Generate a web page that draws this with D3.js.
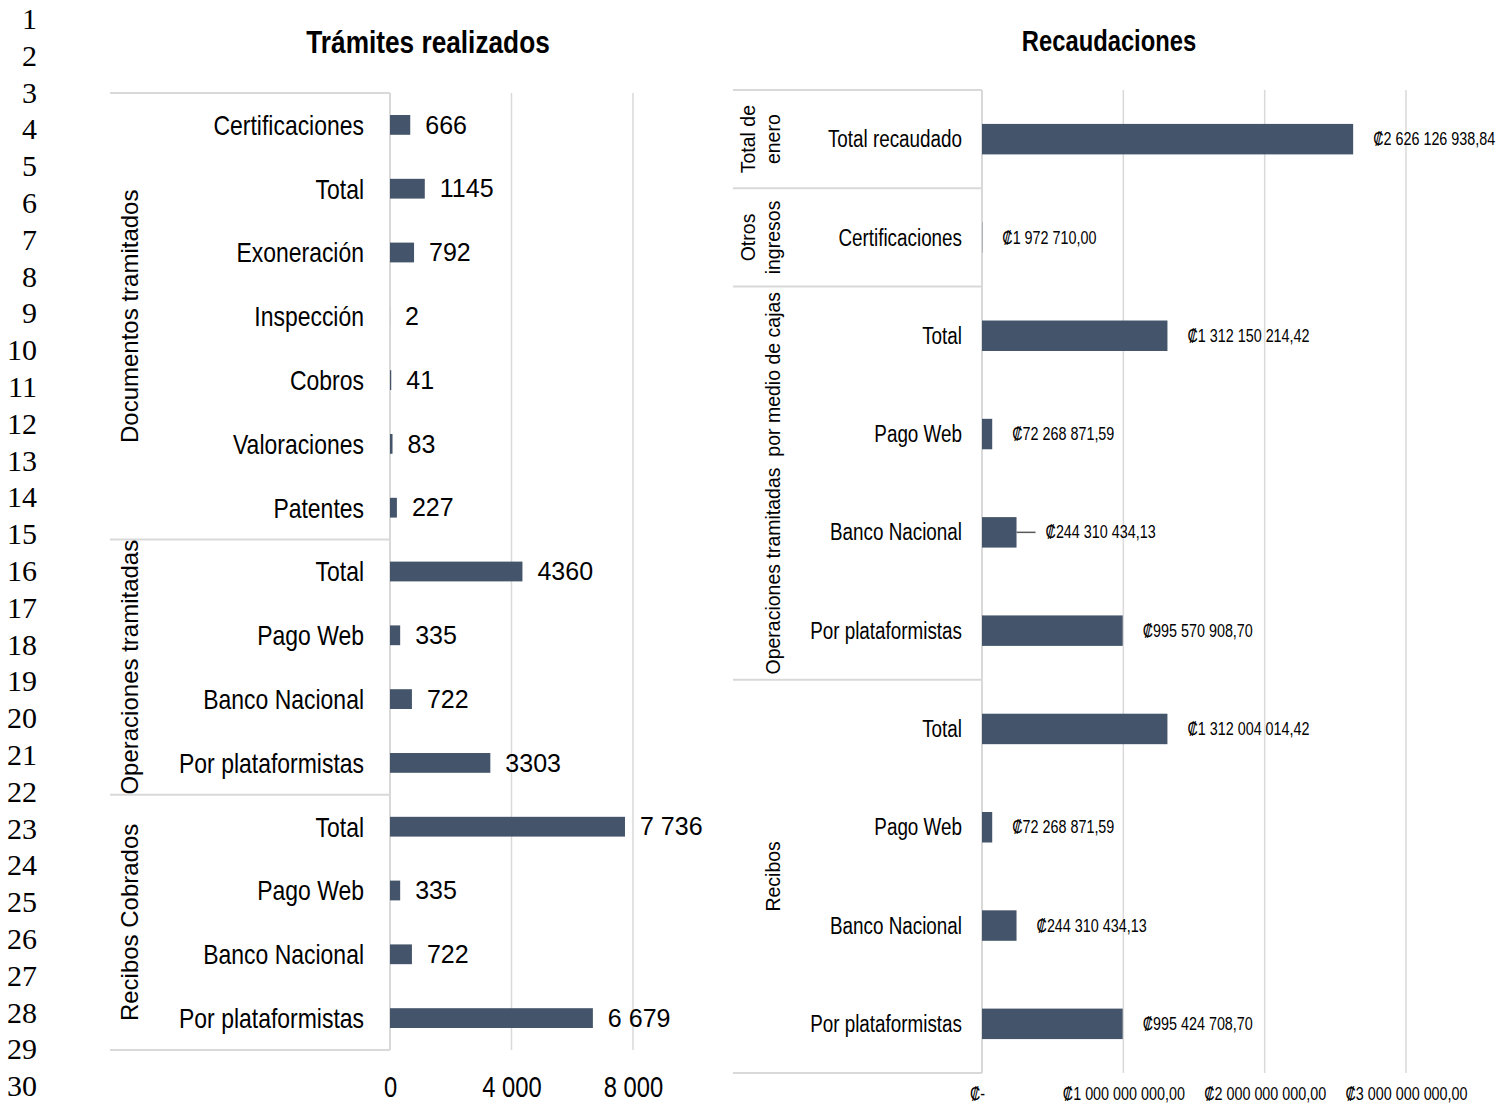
<!DOCTYPE html>
<html>
<head>
<meta charset="utf-8">
<script src="https://cdn.jsdelivr.net/npm/d3@7"></script>
<style>
  body { margin: 0; background: #fff; }
  svg { display: block; }
  text { font-family: "Liberation Sans", Arial, sans-serif; }
</style>
</head>
<body>
<script>
// spreadsheet row numbers on the left
const rowNumbers = d3.range(1, 31)

// Trámites realizados
const tramitesGroups = ['Documentos tramitados', 'Operaciones tramitadas', 'Recibos Cobrados']
const tramitesGroupSizes = [7, 4, 4]
const tramitesCategories = ['Certificaciones', 'Total', 'Exoneración', 'Inspección', 'Cobros', 'Valoraciones', 'Patentes',
    'Total', 'Pago Web', 'Banco Nacional', 'Por plataformistas',
    'Total', 'Pago Web', 'Banco Nacional', 'Por plataformistas']
const tramitesValues = [666, 1145, 792, 2, 41, 83, 227, 4360, 335, 722, 3303, 7736, 335, 722, 6679]
const tramitesLabels = ['666', '1145', '792', '2', '41', '83', '227', '4360', '335', '722', '3303', '7 736', '335', '722', '6 679']
const tramitesTicks = [0, 4000, 8000]
const tramitesTickLabels = ['0', '4 000', '8 000']

// Recaudaciones
const recaudGroups = [['Total de', 'enero'], ['Otros', 'ingresos'], ['Operaciones tramitadas  por medio de cajas'], ['Recibos']]
const recaudGroupSizes = [1, 1, 4, 4]
const recaudCategories = ['Total recaudado', 'Certificaciones', 'Total', 'Pago Web', 'Banco Nacional', 'Por plataformistas',
    'Total', 'Pago Web', 'Banco Nacional', 'Por plataformistas']
const recaudValues = [2626126938.84, 1972710.00, 1312150214.42, 72268871.59, 244310434.13, 995570908.70,
    1312004014.42, 72268871.59, 244310434.13, 995424708.70]
const recaudTicks = [0, 1000000000, 2000000000, 3000000000]

const barColor = '#44546a'
const gridColor = '#d9d9d9'
const narrow = 0.82   // Arial Narrow look: squeeze Liberation Sans horizontally

const width = 1503
const height = 1104

const svg = d3.select('body').append('svg').attr('width', width).attr('height', height)

// row numbers
svg.append('g').selectAll('text').data(rowNumbers).enter().append('text')
    .attr('x', 37)
    .attr('y', (d) => 29 + (d - 1) * 36.8)
    .attr('text-anchor', 'end')
    .style('font-family', '"Liberation Serif", "Times New Roman", serif')
    .attr('font-size', 30)
    .text((d) => d)

// draws one grouped horizontal bar chart
const drawChart = (opt) => {
    const g = svg.append('g')
    const n = opt.values.length
    const xScale = d3.scaleLinear().domain(opt.domain).range([opt.left, opt.right])
    const yScale = d3.scaleBand().domain(d3.range(n)).range([opt.top, opt.bottom])
    const mid = (i) => yScale(i) + yScale.bandwidth() / 2

    // title
    g.append('text')
        .attr('transform', `translate(${opt.titleX}, ${opt.titleY}) scale(${narrow}, 1)`)
        .attr('text-anchor', 'middle')
        .attr('font-size', opt.titleSize).attr('font-weight', 'bold')
        .text(opt.title)

    // gridlines
    g.selectAll('.grid').data(opt.ticks.slice(1)).enter().append('line')
        .attr('x1', (d) => xScale(d)).attr('x2', (d) => xScale(d))
        .attr('y1', opt.top).attr('y2', opt.bottom)
        .attr('stroke', gridColor).attr('stroke-width', 1.5)

    // x axis (labels only)
    const xAxis = d3.axisBottom(xScale).tickValues(opt.ticks).tickSize(0).tickFormat(opt.tickFormat)
    const ax = g.append('g').attr('transform', `translate(0, ${opt.bottom + opt.tickPad})`).call(xAxis)
    ax.select('.domain').remove()
    ax.selectAll('text')
        .attr('font-size', opt.tickSize).attr('fill', '#000').attr('dy', 0)
        .style('font-family', '"Liberation Sans", Arial, sans-serif')
        .attr('transform', (d) => `translate(${d === 0 ? (opt.tickShift || 0) : 0}, 0) scale(${narrow}, 1)`)

    // group separators
    let starts = [0]
    opt.groupSizes.forEach((s, i) => starts.push(starts[i] + s))
    const edge = (s) => s === n ? opt.bottom : yScale(s)
    starts.forEach((s) => {
        g.append('line').attr('x1', opt.groupLeft).attr('x2', opt.left)
            .attr('y1', edge(s)).attr('y2', edge(s))
            .attr('stroke', gridColor).attr('stroke-width', 2)
    })
    g.append('line').attr('x1', opt.left).attr('x2', opt.left)
        .attr('y1', opt.top).attr('y2', opt.bottom)
        .attr('stroke', gridColor).attr('stroke-width', 2)

    // group labels (rotated, last line sits at groupX)
    opt.groups.forEach((lines, i) => {
        const cy = (edge(starts[i]) + edge(starts[i + 1])) / 2
        const arr = Array.isArray(lines) ? lines : [lines]
        const t = g.append('text')
            .attr('transform', `translate(${opt.groupX}, ${cy}) rotate(-90)`)
            .attr('text-anchor', 'middle')
            .attr('font-size', opt.groupSize)
            .style('white-space', 'pre')
        arr.forEach((line, j) => {
            t.append('tspan').attr('x', 0)
                .attr('y', -(arr.length - 1 - j) * opt.groupLine + opt.groupSize * 0.35)
                .text(line)
        })
    })

    // category labels
    g.selectAll('.cat').data(opt.categories).enter().append('text')
        .attr('transform', (d, i) => `translate(${opt.catX}, ${mid(i)}) scale(${narrow}, 1)`)
        .attr('dy', '0.35em')
        .attr('text-anchor', 'end')
        .attr('font-size', opt.catSize)
        .text((d) => d)

    // bars
    const barH = yScale.bandwidth() * opt.barRatio
    g.selectAll('.bar').data(opt.values).enter().append('rect')
        .attr('x', opt.left)
        .attr('y', (d, i) => mid(i) - barH / 2)
        .attr('width', (d) => xScale(d) - opt.left)
        .attr('height', barH)
        .attr('fill', barColor)

    // leader lines for labels pulled away from their bar
    opt.leaders.forEach((i) => {
        g.append('line')
            .attr('x1', xScale(opt.values[i])).attr('x2', xScale(opt.values[i]) + 19)
            .attr('y1', mid(i)).attr('y2', mid(i))
            .attr('stroke', '#595959').attr('stroke-width', 1.5)
    })

    // value labels
    g.selectAll('.val').data(opt.values).enter().append('text')
        .attr('transform', (d, i) => {
            const x = xScale(d) + opt.labelPad + (opt.leaders.includes(i) ? opt.leaderExtra : 0)
            return `translate(${x}, ${mid(i)}) scale(${opt.valNarrow}, 1)`
        })
        .attr('dy', '0.35em')
        .attr('font-size', opt.valSize)
        .text((d, i) => opt.labelFormat(d, i))
}

drawChart({
    title: 'Trámites realizados', titleX: 428, titleY: 53, titleSize: 32,
    values: tramitesValues, categories: tramitesCategories,
    groups: tramitesGroups, groupSizes: tramitesGroupSizes,
    domain: [0, 8000], ticks: tramitesTicks,
    tickFormat: (d, i) => tramitesTickLabels[i], tickSize: 29, tickPad: 44,
    left: 390, right: 633, top: 93, bottom: 1050,
    groupLeft: 110, groupX: 130, groupSize: 24, groupLine: 28,
    catX: 364, catSize: 28, barRatio: 0.31,
    labelPad: 15, valSize: 25, valNarrow: 1, labelFormat: (d, i) => tramitesLabels[i],
    leaders: [], leaderExtra: 0
})

const crc = d3.formatLocale({ decimal: ',', thousands: ' ', grouping: [3], currency: ['₡', ''] })
const crcFormat = crc.format('$,.2f')

drawChart({
    title: 'Recaudaciones', titleX: 1109, titleY: 51, titleSize: 29,
    values: recaudValues, categories: recaudCategories,
    groups: recaudGroups, groupSizes: recaudGroupSizes,
    domain: [0, 3000000000], ticks: recaudTicks,
    tickFormat: (d) => d === 0 ? '₡-' : crcFormat(d), tickSize: 17.5, tickPad: 24, tickShift: -5,
    left: 982, right: 1406, top: 90, bottom: 1073,
    groupLeft: 733, groupX: 773, groupSize: 19.5, groupLine: 25,
    catX: 962, catSize: 23, barRatio: 0.31,
    labelPad: 20, valSize: 17.5, valNarrow: narrow, labelFormat: (d) => crcFormat(d),
    leaders: [4], leaderExtra: 9
})
</script>
</body>
</html>
